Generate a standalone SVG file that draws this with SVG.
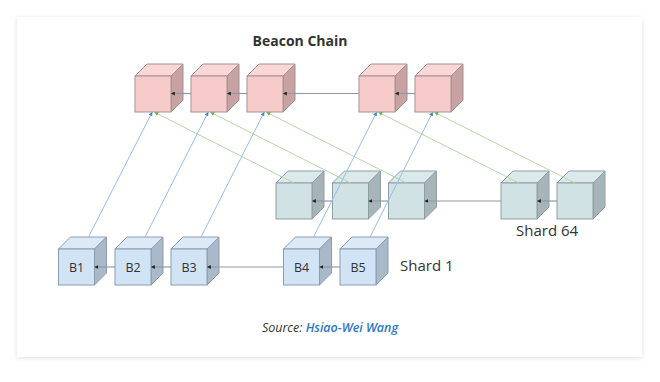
<svg xmlns="http://www.w3.org/2000/svg" width="660" height="382" viewBox="0 0 660 382">
<defs>
<style>
.lbl{font-family:"Open Sans","Liberation Sans",sans-serif;fill:#333}
.bc .f{fill:#f8cbcb}.bc .t{fill:#fad6d6}.bc .s{fill:#c9a2a3}
.bc polygon,.bc rect{stroke:#a39292;stroke-width:1}
.s64 .f{fill:#d0e2e4}.s64 .t{fill:#dce9eb}.s64 .s{fill:#a7b5b9}
.s64 polygon,.s64 rect{stroke:#8f9ea3;stroke-width:1}
.s1 .f{fill:#d1e4f5}.s1 .t{fill:#dceaf7}.s1 .s{fill:#a9b9c9}
.s1 polygon,.s1 rect{stroke:#8c9cb0;stroke-width:1}
.chain{stroke:#8e99a6;stroke-width:1.2;fill:none;marker-end:url(#ag)}
.blue{stroke:#93bfe6;stroke-width:1;fill:none;marker-end:url(#ab)}
.green{stroke:#b6d7a8;stroke-width:1;fill:none;marker-end:url(#agr)}
</style>
<filter id="sh" x="-5%" y="-5%" width="110%" height="110%">
<feDropShadow dx="0" dy="1" stdDeviation="2.5" flood-color="#000" flood-opacity="0.12"/>
</filter>
<marker id="ag" viewBox="0 0 6 6" refX="5" refY="3" markerWidth="4" markerHeight="4" orient="auto" markerUnits="userSpaceOnUse"><path d="M0,0L6,3L0,6z" fill="#222"/></marker>
<marker id="ab" viewBox="0 0 6 6" refX="5" refY="3" markerWidth="4" markerHeight="4" orient="auto" markerUnits="userSpaceOnUse"><path d="M0,0L6,3L0,6z" fill="#3d85c6"/></marker>
<marker id="agr" viewBox="0 0 6 6" refX="5" refY="3" markerWidth="4" markerHeight="4" orient="auto" markerUnits="userSpaceOnUse"><path d="M0,0L6,3L0,6z" fill="#6aa84f"/></marker>
</defs>
<rect width="660" height="382" fill="#fff"/>
<rect x="17" y="17" width="625" height="340" fill="#fff" filter="url(#sh)"/>
<text class="lbl" x="300" y="46" text-anchor="middle" font-size="14" font-weight="bold">Beacon Chain</text>

<g id="beacon">
<g id="beacon1" class="bc" transform="translate(135,76)"><polygon class="t" points="0,0 12,-12 48,-12 36,0"/><polygon class="s" points="36,0 48,-12 48,24 36,36"/><rect class="f" width="36" height="36"/></g>
<g id="beacon2" class="bc" transform="translate(191,76)"><polygon class="t" points="0,0 12,-12 48,-12 36,0"/><polygon class="s" points="36,0 48,-12 48,24 36,36"/><rect class="f" width="36" height="36"/></g>
<g id="beacon3" class="bc" transform="translate(247,76)"><polygon class="t" points="0,0 12,-12 48,-12 36,0"/><polygon class="s" points="36,0 48,-12 48,24 36,36"/><rect class="f" width="36" height="36"/></g>
<g id="beacon4" class="bc" transform="translate(359,76)"><polygon class="t" points="0,0 12,-12 48,-12 36,0"/><polygon class="s" points="36,0 48,-12 48,24 36,36"/><rect class="f" width="36" height="36"/></g>
<g id="beacon5" class="bc" transform="translate(415,76)"><polygon class="t" points="0,0 12,-12 48,-12 36,0"/><polygon class="s" points="36,0 48,-12 48,24 36,36"/><rect class="f" width="36" height="36"/></g>
</g>

<g id="shard64">
<g id="s64a" class="s64" transform="translate(276,183)"><polygon class="t" points="0,0 12,-12 48,-12 36,0"/><polygon class="s" points="36,0 48,-12 48,24 36,36"/><rect class="f" width="36" height="36"/></g>
<g id="s64b" class="s64" transform="translate(332.5,183)"><polygon class="t" points="0,0 12,-12 48,-12 36,0"/><polygon class="s" points="36,0 48,-12 48,24 36,36"/><rect class="f" width="36" height="36"/></g>
<g id="s64c" class="s64" transform="translate(388.5,183)"><polygon class="t" points="0,0 12,-12 48,-12 36,0"/><polygon class="s" points="36,0 48,-12 48,24 36,36"/><rect class="f" width="36" height="36"/></g>
<g id="s64d" class="s64" transform="translate(501,183)"><polygon class="t" points="0,0 12,-12 48,-12 36,0"/><polygon class="s" points="36,0 48,-12 48,24 36,36"/><rect class="f" width="36" height="36"/></g>
<g id="s64e" class="s64" transform="translate(557,183)"><polygon class="t" points="0,0 12,-12 48,-12 36,0"/><polygon class="s" points="36,0 48,-12 48,24 36,36"/><rect class="f" width="36" height="36"/></g>
<text class="lbl" x="516" y="236" font-size="15">Shard 64</text>
</g>

<g id="shard1">
<g id="B1" class="s1" transform="translate(58.5,249)"><polygon class="t" points="0,0 12,-12 48,-12 36,0"/><polygon class="s" points="36,0 48,-12 48,24 36,36"/><rect class="f" width="36" height="36"/><text class="lbl" x="18" y="22.5" font-size="12.5" text-anchor="middle">B1</text></g>
<g id="B2" class="s1" transform="translate(115,249)"><polygon class="t" points="0,0 12,-12 48,-12 36,0"/><polygon class="s" points="36,0 48,-12 48,24 36,36"/><rect class="f" width="36" height="36"/><text class="lbl" x="18" y="22.5" font-size="12.5" text-anchor="middle">B2</text></g>
<g id="B3" class="s1" transform="translate(171,249)"><polygon class="t" points="0,0 12,-12 48,-12 36,0"/><polygon class="s" points="36,0 48,-12 48,24 36,36"/><rect class="f" width="36" height="36"/><text class="lbl" x="18" y="22.5" font-size="12.5" text-anchor="middle">B3</text></g>
<g id="B4" class="s1" transform="translate(283.5,249)"><polygon class="t" points="0,0 12,-12 48,-12 36,0"/><polygon class="s" points="36,0 48,-12 48,24 36,36"/><rect class="f" width="36" height="36"/><text class="lbl" x="18" y="22.5" font-size="12.5" text-anchor="middle">B4</text></g>
<g id="B5" class="s1" transform="translate(340,249)"><polygon class="t" points="0,0 12,-12 48,-12 36,0"/><polygon class="s" points="36,0 48,-12 48,24 36,36"/><rect class="f" width="36" height="36"/><text class="lbl" x="18" y="22.5" font-size="12.5" text-anchor="middle">B5</text></g>
<text class="lbl" x="400" y="271" font-size="15">Shard 1</text>
</g>

<g id="connectors">
<path class="chain" d="M191,93.5H171.5"/>
<path class="chain" d="M247,93.5H227.5"/>
<path class="chain" d="M359,93.5H283.5"/>
<path class="chain" d="M415,93.5H395.5"/>
<path class="chain" d="M332.5,201H312.5"/>
<path class="chain" d="M388.5,201H369"/>
<path class="chain" d="M501,201H425"/>
<path class="chain" d="M557,201H537.5"/>
<path class="chain" d="M115,267H95"/>
<path class="chain" d="M171,267H151.5"/>
<path class="chain" d="M283.5,267H207.5"/>
<path class="chain" d="M340,267H320"/>
<path class="green" d="M294,183L155,112.5"/>
<path class="green" d="M350.5,183L211,112.5"/>
<path class="green" d="M406.5,183L267,112.5"/>
<path class="green" d="M519,183L379,112.5"/>
<path class="green" d="M575,183L435,112.5"/>
<path class="blue" d="M88.5,237L152,112.5"/>
<path class="blue" d="M145,237L208,112.5"/>
<path class="blue" d="M201,237L264,112.5"/>
<path class="blue" d="M313.5,237L376.5,112.5"/>
<path class="blue" d="M370,237L432.5,112.5"/>
</g>

<text x="330" y="332" text-anchor="middle" font-family="'Open Sans','Liberation Sans',sans-serif" font-size="12.5" font-style="italic"><tspan fill="#333">Source: </tspan><tspan fill="#2b78c5" font-weight="600">Hsiao-Wei Wang</tspan></text>
</svg>
